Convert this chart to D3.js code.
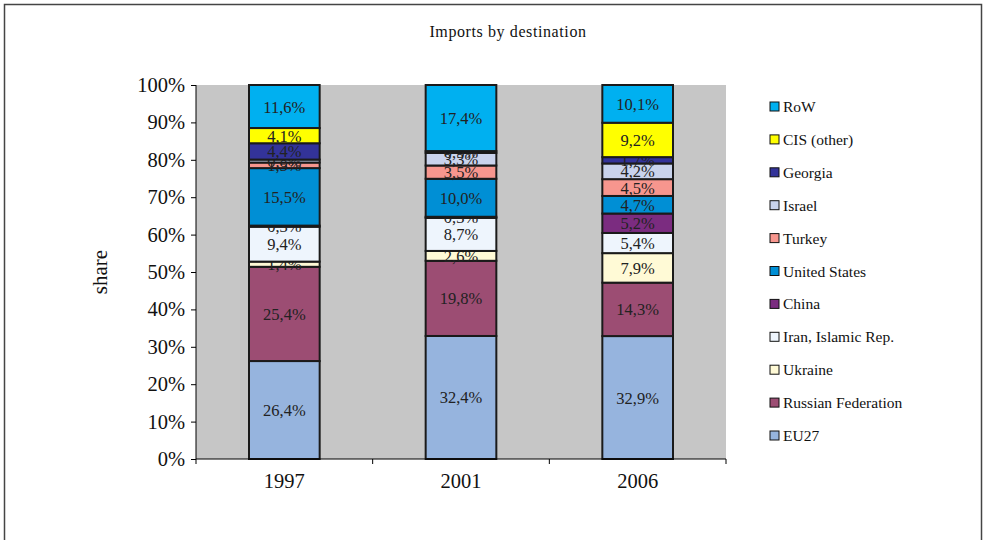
<!DOCTYPE html>
<meta charset="utf-8">
<script src="https://d3js.org/d3.v7.min.js"></script>
<style>
body { margin: 0; background: #fff; }
svg text { font-family: "Liberation Serif", "Times New Roman", serif !important; fill: #111; }
.axis path { display: none; }
.axis line { stroke: #000; }
.axis text { font-size: 20.5px; }
.seg text { font-size: 16.5px; fill: #222; }
.legend text { font-size: 15.5px; }
</style>
<body></body>
<script>
// data, bottom of the stack first
var years = ["1997", "2001", "2006"];
var series = ["EU27", "Russian Federation", "Ukraine", "Iran, Islamic Rep.", "China",
  "United States", "Turkey", "Israel", "Georgia", "CIS (other)", "RoW"];
var v1997 = [26.4, 25.4, 1.4, 9.4, 0.3, 15.5, 1.5, 0.8, 4.4, 4.1, 11.6];
var v2001 = [32.4, 19.8, 2.6, 8.7, 0.3, 10.0, 3.5, 3.3, 0.5, null, 17.4];
var v2006 = [32.9, 14.3, 7.9, 5.4, 5.2, 4.7, 4.5, 4.2, 1.7, 9.2, 10.1];
var colors = ["#96b4de", "#9c4d73", "#fffad6", "#eef5fd", "#7b2c80",
  "#008fd5", "#f7968e", "#c9d3ec", "#333399", "#ffff00", "#00b0f0"];
var yTicks = [0, 0.1, 0.2, 0.3, 0.4, 0.5, 0.6, 0.7, 0.8, 0.9, 1];

var values = [v1997, v2001, v2006];

var W = 986, H = 540;
var svg = d3.select("body").append("svg").attr("width", W).attr("height", H)
  .attr("font-family", "Liberation Serif, serif");

// outer frame
svg.append("rect").attr("x", 4.5).attr("y", 4.5).attr("width", 977).attr("height", 560)
  .attr("fill", "none").attr("stroke", "#444").attr("stroke-width", 1.5);

svg.append("text").attr("x", 508).attr("y", 37).attr("text-anchor", "middle")
  .style("font-size", "16px").style("letter-spacing", "0.6px").text("Imports  by destination");

var margin = {left: 196, top: 85, right: 260, bottom: 81};
var width = W - margin.left - margin.right, height = H - margin.top - margin.bottom;
var g = svg.append("g").attr("transform", "translate(" + margin.left + "," + margin.top + ")");

var x = d3.scaleBand().domain(years).range([0, width]).paddingInner(0.6).paddingOuter(0.3);
var y = d3.scaleLinear().domain([0, 1]).range([height, 0]);

g.append("rect").attr("width", width).attr("height", height).attr("fill", "#c6c6c6");

// build stacked rows
var rows = years.map(function(yr, i) {
  var r = {year: yr};
  series.forEach(function(s, j) { r[s] = values[i][j] || 0; });
  return r;
});
var stack = d3.stack().keys(series).offset(d3.stackOffsetExpand)(rows);

var layer = g.selectAll(".seg").data(stack).enter().append("g").attr("class", "seg")
  .attr("fill", function(d, i) { return colors[i]; });

layer.selectAll("rect").data(function(d) { return d; }).enter().append("rect")
  .attr("x", function(d) { return x(d.data.year); })
  .attr("width", x.bandwidth())
  .attr("y", function(d) { return y(d[1]); })
  .attr("height", function(d) { return y(d[0]) - y(d[1]); })
  .attr("stroke", "#1a1a1a").attr("stroke-width", 2);

layer.selectAll("text").data(function(d) {
    return d.map(function(p) { p.key = d.key; return p; });
  }).enter()
  .filter(function(d) { return d.data[d.key] > 0; })
  .append("text")
  .attr("x", function(d) { return x(d.data.year) + x.bandwidth() / 2; })
  .attr("y", function(d) { return (y(d[0]) + y(d[1])) / 2 + 6; })
  .attr("text-anchor", "middle")
  .text(function(d) { return d.data[d.key].toFixed(1).replace(".", ",") + "%"; });

// axes
var yAxis = d3.axisLeft(y).tickValues(yTicks).tickSize(5).tickPadding(6)
  .tickFormat(function(d) { return Math.round(d * 100) + "%"; });
g.append("g").attr("class", "axis").call(yAxis);
g.append("line").attr("x1", 0).attr("x2", 0).attr("y1", 0).attr("y2", height).attr("stroke", "#000");

var xAxis = d3.axisBottom(x).tickSize(0).tickPadding(14);
g.append("g").attr("class", "axis").attr("transform", "translate(0," + height + ")").call(xAxis);
g.append("line").attr("x1", 0).attr("x2", width).attr("y1", height).attr("y2", height).attr("stroke", "#000");
g.selectAll(".xtick").data(d3.range(years.length + 1)).enter().append("line")
  .attr("x1", function(d) { return d * width / years.length; })
  .attr("x2", function(d) { return d * width / years.length; })
  .attr("y1", height).attr("y2", height + 5).attr("stroke", "#000");

svg.append("text").attr("transform", "translate(107,272) rotate(-90)")
  .attr("text-anchor", "middle").style("font-size", "21px").text("share");

// legend, top entry is the top of the stack
var leg = svg.append("g").attr("class", "legend");
var items = leg.selectAll("g").data(series.slice().reverse()).enter().append("g")
  .attr("transform", function(d, i) { return "translate(770," + (107 + i * 32.9) + ")"; });
items.append("rect").attr("x", 0).attr("y", -5).attr("width", 9).attr("height", 9)
  .attr("stroke", "#111").attr("stroke-width", 1)
  .attr("fill", function(d) { return colors[series.indexOf(d)]; });
items.append("text").attr("x", 13).attr("y", 5).text(function(d) { return d; });
</script>
